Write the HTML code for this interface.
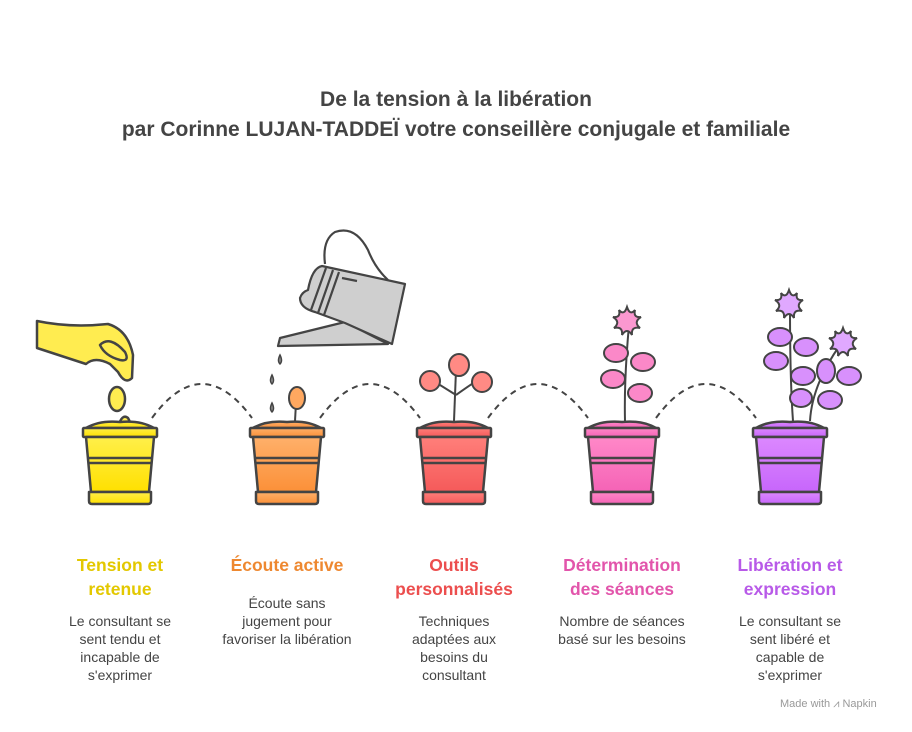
<!DOCTYPE html>
<html><head><meta charset="utf-8"><style>
body{margin:0;background:#fff;width:912px;height:732px;overflow:hidden;font-family:"Liberation Sans",sans-serif}
.t{position:absolute;width:180px;text-align:center;font-weight:bold;font-size:17.5px;line-height:24px}
.d{position:absolute;text-align:center;font-size:14px;line-height:18px;color:#444}
</style></head><body>
<div style="position:absolute;top:85px;left:0;width:912px;text-align:center;font-weight:bold;font-size:21px;line-height:30px;color:#444">De la tension à la libération<br>par Corinne LUJAN-TADDEÏ votre conseillère conjugale et familiale</div>
<svg width="912" height="732" style="position:absolute;left:0;top:0">
<defs>
<linearGradient id="g1" x1="0" y1="0" x2="0" y2="1"><stop offset="0" stop-color="#ffef4a"/><stop offset="1" stop-color="#ffe000"/></linearGradient>
<linearGradient id="g2" x1="0" y1="0" x2="0" y2="1"><stop offset="0" stop-color="#ffb06a"/><stop offset="1" stop-color="#fb9038"/></linearGradient>
<linearGradient id="g3" x1="0" y1="0" x2="0" y2="1"><stop offset="0" stop-color="#ff7f7a"/><stop offset="1" stop-color="#f55a5a"/></linearGradient>
<linearGradient id="g4" x1="0" y1="0" x2="0" y2="1"><stop offset="0" stop-color="#ff88c8"/><stop offset="1" stop-color="#f563b6"/></linearGradient>
<linearGradient id="g5" x1="0" y1="0" x2="0" y2="1"><stop offset="0" stop-color="#dc88ff"/><stop offset="1" stop-color="#c766fb"/></linearGradient>
<g id="pot" stroke="#444" stroke-width="2.5" stroke-linejoin="round">
<path d="M-34 428 Q-20 420 0 422 Q20 420 34 428Z"/>
<rect x="-37" y="428" width="74" height="9" rx="1"/>
<path d="M-34 437 L34 437 L29 492 L-29 492Z"/>
<line x1="-32" y1="458" x2="32" y2="458"/><line x1="-31" y1="463" x2="31" y2="463"/>
<path d="M-31 492 L31 492 L31 501 Q31 504 28 504 L-28 504 Q-31 504 -31 501Z"/>
</g>
<path id="fl" d="M0 -15 Q3 -6 8 -12 Q6 -4 14 -5 Q6 0 13 6 Q4 4 5 13 Q0 5 -5 13 Q-4 4 -13 6 Q-6 0 -14 -5 Q-6 -4 -8 -12 Q-3 -6 0 -15Z"/>
</defs>
<g fill="none" stroke="#444" stroke-width="2" stroke-dasharray="6 5">
<path d="M152 418 Q202 350 252 418"/><path d="M320 418 Q370 350 420 418"/><path d="M488 418 Q538 350 588 418"/><path d="M656 418 Q706 350 756 418"/>
</g>
<g stroke="#444" stroke-width="2.5" fill="#ffec50" stroke-linejoin="round">
<path d="M37 321 Q70 328 108 324 Q128 330 133 355 L132 378 Q125 385 118 372 L110 364 Q95 356 86 364 L37 348Z"/>
<path d="M100 345 Q110 335 125 352 Q130 362 120 360 Q105 356 100 345Z"/>
<ellipse cx="117" cy="399" rx="8" ry="12"/>
<path d="M118 427 Q122 413 128 418 Q132 425 130 428Z"/>
</g>
<use href="#pot" x="120" fill="url(#g1)"/>
<g stroke="#444" stroke-width="2.2" stroke-linejoin="round" fill="#cfcfcf">
<path d="M325 264 Q322 240 335 232 Q355 225 368 250 Q375 268 388 280" fill="none"/>
<path d="M345 322 L280 338 L278 346 L388 344Z"/>
<path d="M322 266 L405 284 L392 344 L345 323 L315 312 Q300 308 300 298 Q302 292 308 290 Q312 268 322 266Z"/>
<path d="M326 268 L311 310 M333 270 L318 313 M339 272 L324 315 M342 278 L357 281" fill="none"/>
</g>
<g fill="#999" stroke="#444" stroke-width="1.5">
<path d="M280 355 q-3 6 0 9 q3-3 0-9z"/><path d="M272 375 q-3 6 0 9 q3-3 0-9z"/><path d="M272 403 q-3 6 0 9 q3-3 0-9z"/>
</g>
<g stroke="#444" stroke-width="2">
<line x1="295" y1="421" x2="296" y2="403"/>
<ellipse cx="297" cy="398" rx="8" ry="11" fill="#ffa860"/>
</g>
<use href="#pot" x="287" fill="url(#g2)"/>
<g stroke="#444" stroke-width="2" fill="#ff8a84">
<path d="M454 421 L456 370" fill="none"/><path d="M456 395 Q440 385 432 380" fill="none"/><path d="M456 395 Q470 385 478 380" fill="none"/>
<ellipse cx="459" cy="365" rx="10" ry="11"/><ellipse cx="430" cy="381" rx="10" ry="10"/><ellipse cx="482" cy="382" rx="10" ry="10"/>
</g>
<use href="#pot" x="454" fill="url(#g3)"/>
<g stroke="#444" stroke-width="2" fill="#fb88c8">
<path d="M625 421 Q624 380 629 325" fill="none"/>
<ellipse cx="616" cy="353" rx="12" ry="9"/><ellipse cx="643" cy="362" rx="12" ry="9"/><ellipse cx="613" cy="379" rx="12" ry="9"/><ellipse cx="640" cy="393" rx="12" ry="9"/>
<use href="#fl" x="627" y="322" fill="#fb98d0"/>
</g>
<use href="#pot" x="622" fill="url(#g4)"/>
<g stroke="#444" stroke-width="2" fill="#d890fc">
<path d="M793 421 Q790 380 790 308" fill="none"/><path d="M810 421 Q812 385 840 345" fill="none"/>
<ellipse cx="780" cy="337" rx="12" ry="9"/><ellipse cx="806" cy="347" rx="12" ry="9"/><ellipse cx="776" cy="361" rx="12" ry="9"/><ellipse cx="803" cy="376" rx="12" ry="9"/><ellipse cx="801" cy="398" rx="11" ry="9"/><ellipse cx="826" cy="371" rx="9" ry="12"/><ellipse cx="849" cy="376" rx="12" ry="9"/><ellipse cx="830" cy="400" rx="12" ry="9"/>
<use href="#fl" x="789" y="305" fill="#e0a8ff"/>
<use href="#fl" x="843" y="343" fill="#e0a8ff"/>
</g>
<use href="#pot" x="790" fill="url(#g5)"/>
</svg>
<div class="t" style="left:30px;top:553px;color:#e3c800">Tension et<br>retenue</div>
<div class="t" style="left:197px;top:553px;color:#ee8830">Écoute active</div>
<div class="t" style="left:364px;top:553px;color:#ec4e4e">Outils<br>personnalisés</div>
<div class="t" style="left:532px;top:553px;color:#e255ab">Détermination<br>des séances</div>
<div class="t" style="left:700px;top:553px;color:#b85ae8">Libération et<br>expression</div>
<div class="d" style="left:58px;width:124px;top:612px">Le consultant se sent tendu et incapable de s'exprimer</div>
<div class="d" style="left:197px;width:180px;top:594px">Écoute sans<br>jugement pour<br>favoriser la libération</div>
<div class="d" style="left:402px;width:104px;top:612px">Techniques adaptées aux besoins du consultant</div>
<div class="d" style="left:547px;width:150px;top:612px">Nombre de séances basé sur les besoins</div>
<div class="d" style="left:728px;width:124px;top:612px">Le consultant se sent libéré et capable de s'exprimer</div>
<div style="position:absolute;left:780px;top:698px;font-size:11px;color:#999">Made with ⩘ Napkin</div>
</body></html>
